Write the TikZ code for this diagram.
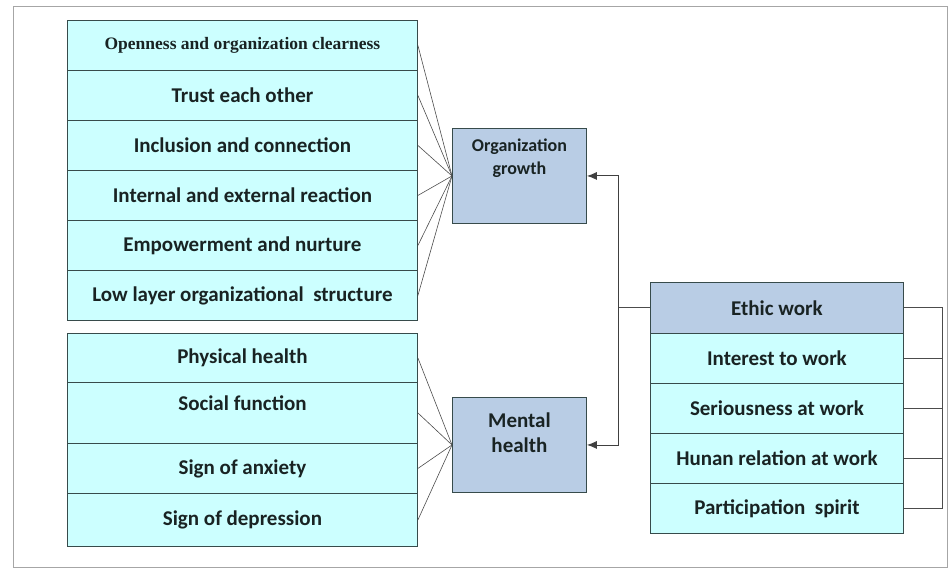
\documentclass[tikz,border=0pt]{standalone}
\usepackage{fontspec}
\setmainfont{Carlito}
\newfontfamily\timesbf{Liberation Serif}
\usetikzlibrary{arrows.meta}

\definecolor{rowcyan}{RGB}{204,255,255}
\definecolor{boxblue}{RGB}{185,205,229}
\definecolor{edgegray}{RGB}{55,75,75}
\definecolor{inkdark}{RGB}{25,35,35}

\tikzset{
  rowbox/.style={draw=edgegray, fill=rowcyan, line width=0.9pt, inner sep=0,
                 minimum width=350pt, anchor=north west, text=inkdark,
                 font=\bfseries\fontsize{21}{24}\selectfont},
  outbox/.style={draw=edgegray, fill=boxblue, line width=0.9pt, inner sep=0,
                 minimum width=134pt, minimum height=95pt, align=center,
                 text=inkdark},
  fan/.style={gray!60!black, line width=0.6pt},
  link/.style={black!75, line width=0.9pt, -{Latex[length=10pt,width=8pt]}},
}

\begin{document}
\begin{tikzpicture}[x=1pt, y=-1pt]
  \useasboundingbox (0,0) rectangle (951,569);
  \draw[gray!70, line width=0.8pt] (13,6) rectangle (947,567);

  % Organization growth factors
  \node[rowbox, minimum height=50pt, font=\timesbf\bfseries\fontsize{17.5}{20}\selectfont]
    (og1) at (67,20) {Openness and organization clearness};
  \foreach \i/\y/\txt in {2/70/Trust each other,
                          3/120/Inclusion and connection,
                          4/170/Internal and external reaction,
                          5/220/Empowerment and nurture,
                          6/270/Low layer organizational\ \ structure} {
    \node[rowbox, minimum height=50pt] (og\i) at (67,\y) {\txt};
  }

  % Mental health factors
  \node[rowbox, minimum height=49pt] (mh1) at (67,333) {Physical health};
  \node[rowbox, minimum height=61pt, text depth=20pt] (mh2) at (67,382) {Social function};
  \node[rowbox, minimum height=50pt] (mh3) at (67,443) {Sign of anxiety};
  \node[rowbox, minimum height=53pt] (mh4) at (67,493) {Sign of depression};

  % Outcomes
  \node[outbox, anchor=north west, text depth=38pt,
        font=\bfseries\fontsize{18}{23}\selectfont]
    (og) at (452,128) {Organization\\growth};
  \node[outbox, anchor=north west, text depth=25pt,
        font=\bfseries\fontsize{21}{25}\selectfont]
    (mh) at (452,397) {Mental\\health};

  % Ethic work
  \node[rowbox, minimum width=253pt, minimum height=51pt, fill=boxblue]
    (ew1) at (650,282) {Ethic work};
  \foreach \i/\y/\txt in {2/333/Interest to work,
                          3/383/Seriousness at work,
                          4/433/Hunan relation at work,
                          5/483/Participation\ \ spirit} {
    \node[rowbox, minimum width=253pt, minimum height=50pt] (ew\i) at (650,\y) {\txt};
  }

  % fan-in lines
  \foreach \i in {1,...,6} \draw[fan] (og\i.east) -- (og.west);
  \foreach \i in {1,...,4} \draw[fan] (mh\i.east) -- (mh.west);

  % bracket on the right
  \draw[fan, line width=0.9pt] (ew1.east) -- ++(39,0) coordinate (bk) |- (ew5.east);
  \foreach \i in {2,3,4} \draw[fan, line width=0.9pt] (ew\i.east) -- (ew\i.east -| bk);

  % links to outcomes
  \draw[fan, line width=0.9pt] (ew1.west) -- ++(-32,0) coordinate (mid);
  \draw[link] (mid) |- (og.east);
  \draw[link] (mid) |- (mh.east);
\end{tikzpicture}
\end{document}
